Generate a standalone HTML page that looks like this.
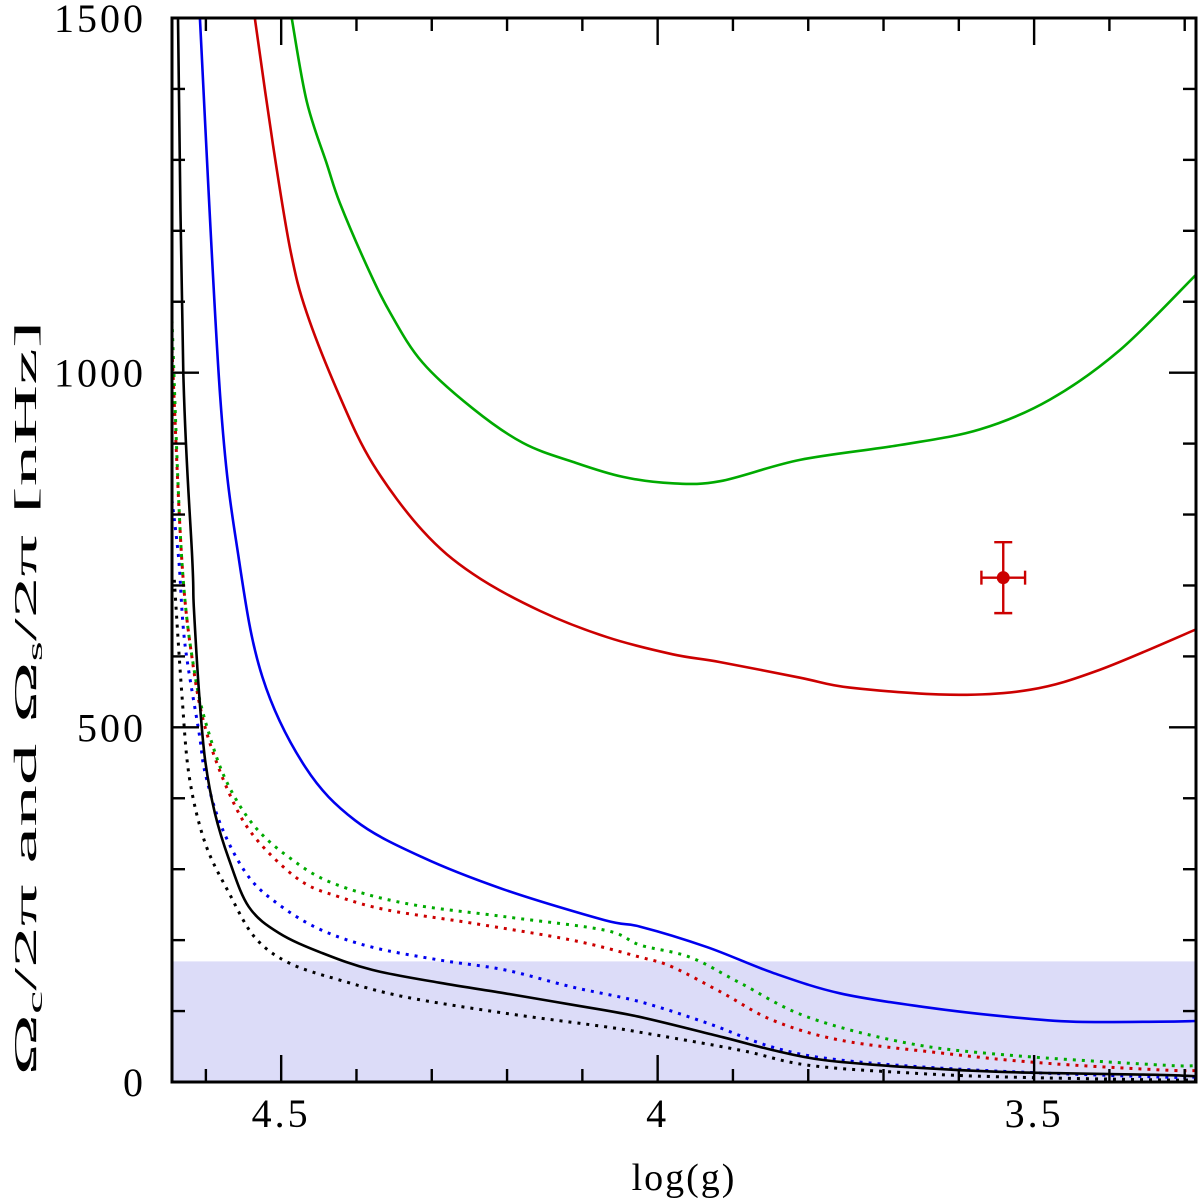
<!DOCTYPE html>
<html><head><meta charset="utf-8"><style>
html,body{margin:0;padding:0;background:#fff;}
svg{display:block;font-family:"Liberation Serif",serif;}
</style></head><body>
<svg id="chart" width="1200" height="1200" viewBox="0 0 1200 1200">
<rect x="172" y="962" width="1024" height="120" fill="#dcdcf8" id="band"/>
<g id="series"></g>
<g id="axes"></g>
<text x="684" y="1190" font-size="38" letter-spacing="2" text-anchor="middle">log(g)</text>
<text transform="translate(36,698) rotate(-90)" font-size="32" text-anchor="middle" textLength="755" lengthAdjust="spacingAndGlyphs">Ω<tspan font-size="20" dy="6">c</tspan><tspan dy="-6">/2π and Ω</tspan><tspan font-size="20" dy="6">s</tspan><tspan dy="-6">/2π [nHz]</tspan></text>
</svg>
<script>
const xTicks=[4.5,4,3.5];
const xTickLabels=["4.5","4","3.5"];
const yTicks=[0,500,1000,1500];
const yTickLabels=["0","500","1000","1500"];
const bandMax=170;
const greenSolidX=[4.486,4.466,4.439,4.422,4.386,4.355,4.312,4.245,4.179,4.112,4.046,3.980,3.917,3.811,3.678,3.572,3.479,3.386,3.285];
const greenSolidY=[1500,1382,1293,1239,1150,1084,1014,949,901,874,853,844,847,877,898,920,962,1032,1138];
const redSolidX=[4.535,4.511,4.488,4.466,4.422,4.378,4.312,4.245,4.156,4.067,3.980,3.917,3.811,3.745,3.612,3.505,3.413,3.285];
const redSolidY=[1500,1322,1174,1084,966,871,777,716,664,627,603,592,570,556,546,553,581,638];
const blueSolidX=[4.608,4.581,4.556,4.525,4.468,4.402,4.313,4.203,4.070,4.023,3.934,3.847,3.758,3.648,3.536,3.448,3.333,3.285];
const blueSolidY=[1500,966,736,571,444,369,317,271,228,219,190,154,125,106,92,85,85,86];
const blackSolidX=[4.637,4.630,4.618,4.616,4.609,4.601,4.588,4.569,4.543,4.503,4.446,4.379,4.290,4.203,4.114,4.025,3.913,3.847,3.780,3.669,3.536,3.333,3.285];
const blackSolidY=[1500,1000,736,670,548,454,379,313,247,210,182,158,140,125,109,92,63,45,31,21,14,10,8];
const blackDotX=[4.642,4.632,4.622,4.601,4.569,4.535,4.490,4.423,4.336,4.203,4.070,4.023,3.891,3.802,3.669,3.536,3.333,3.285];
const blackDotY=[708,548,430,337,266,204,168,144,120,97,78,70,45,24,13,7,3,3];
const blueDotX=[4.645,4.636,4.628,4.609,4.601,4.579,4.543,4.499,4.446,4.379,4.290,4.203,4.114,4.023,3.934,3.847,3.758,3.581,3.333,3.285];
const blueDotY=[820,736,619,492,436,359,289,247,214,190,172,158,134,113,83,49,31,17,7,7];
const redDotX=[4.645,4.632,4.618,4.601,4.569,4.535,4.476,4.423,4.357,4.247,4.114,4.023,3.980,3.913,3.847,3.758,3.625,3.492,3.333,3.285];
const redDotY=[1032,736,595,500,407,345,285,261,242,224,200,176,162,125,87,59,41,27,17,16];
const greenDotX=[4.645,4.632,4.614,4.592,4.569,4.535,4.490,4.433,4.336,4.203,4.070,4.023,3.957,3.891,3.802,3.669,3.536,3.333,3.285];
const greenDotY=[1074,736,571,478,416,360,317,281,252,233,214,193,176,140,92,55,38,24,23];
const obsX=[3.541];
const obsY=[711];
const obsXErr=[0.029];
const obsYErr=[50];

const L=172,R=1196,T=18,B=1082,XMIN=4.645,XMAX=3.285,YMIN=0,YMAX=1500;
const sx=v=>L+(XMIN-v)/(XMIN-XMAX)*(R-L);
const sy=v=>B-(v-YMIN)/(YMAX-YMIN)*(B-T);
const NS="http://www.w3.org/2000/svg";
function mk(tag,attrs,parent){const e=document.createElementNS(NS,tag);for(const k in attrs)e.setAttribute(k,attrs[k]);parent.appendChild(e);return e;}
const band=document.getElementById('band');
band.setAttribute('y',sy(bandMax));band.setAttribute('height',B-sy(bandMax));
const sg=document.getElementById('series');
const clip=mk('clipPath',{id:'pc'},sg);mk('rect',{x:L,y:T,width:R-L,height:B-T},clip);
function smoothPath(P){
  let d='M'+P[0][0].toFixed(1)+','+P[0][1].toFixed(1);
  for(let i=0;i<P.length-1;i++){
    const p0=P[Math.max(0,i-1)],p1=P[i],p2=P[i+1],p3=P[Math.min(P.length-1,i+2)];
    const c1=[p1[0]+(p2[0]-p0[0])/6,p1[1]+(p2[1]-p0[1])/6];
    const c2=[p2[0]-(p3[0]-p1[0])/6,p2[1]-(p3[1]-p1[1])/6];
    d+=' C'+c1[0].toFixed(1)+','+c1[1].toFixed(1)+' '+c2[0].toFixed(1)+','+c2[1].toFixed(1)+' '+p2[0].toFixed(1)+','+p2[1].toFixed(1);
  }
  return d;
}
function line(xs,ys,color,dotted,name){
  const P=xs.map((x,i)=>[sx(x),sy(ys[i])]);
  const p=mk('path',{d:smoothPath(P),fill:'none',stroke:color,'stroke-width':dotted?3:2.6,'stroke-linejoin':'round','clip-path':'url(#pc)'},sg);
  if(dotted){p.setAttribute('stroke-dasharray','3 6');}
  
  
}
line(greenSolidX,greenSolidY,'#00aa00',false,'green-solid-curve');
line(redSolidX,redSolidY,'#cc0000',false,'red-solid-curve');
line(blueSolidX,blueSolidY,'#0000ee',false,'blue-solid-curve');
line(blackDotX,blackDotY,'#000',true,'black-dotted-curve');
line(blueDotX,blueDotY,'#0000ee',true,'blue-dotted-curve');
line(redDotX,redDotY,'#cc0000',true,'red-dotted-curve');
line(greenDotX,greenDotY,'#00aa00',true,'green-dotted-curve');
line(blackSolidX,blackSolidY,'#000',false,'black-solid-curve');
obsX.forEach((x,i)=>{
  const g=mk('g',{stroke:'#cc0000','stroke-width':2.4,fill:'#cc0000'},sg);
  
  
  const cx=sx(x),cy=sy(obsY[i]),x1=sx(x+obsXErr[i]),x2=sx(x-obsXErr[i]),y1=sy(obsY[i]+obsYErr[i]),y2=sy(obsY[i]-obsYErr[i]);
  mk('line',{x1:x1,x2:x2,y1:cy,y2:cy},g);mk('line',{x1:cx,x2:cx,y1:y1,y2:y2},g);
  mk('line',{x1:x1,x2:x1,y1:cy-7,y2:cy+7},g);mk('line',{x1:x2,x2:x2,y1:cy-7,y2:cy+7},g);
  mk('line',{x1:cx-9,x2:cx+9,y1:y1,y2:y1},g);mk('line',{x1:cx-9,x2:cx+9,y1:y2,y2:y2},g);
  mk('circle',{cx:cx,cy:cy,r:6.5,stroke:'none'},g);
});
const ax=document.getElementById('axes');
const frame=mk('rect',{x:L,y:T,width:R-L,height:B-T,fill:'none',stroke:'#000','stroke-width':3},ax);


for(let k=46;k>=33;k--){const v=k/10;const x=sx(v);const major=(k%5===0);const len=major?27:13;
  mk('line',{x1:x,x2:x,y1:B,y2:B-len,stroke:'#000','stroke-width':2.4},ax);
  mk('line',{x1:x,x2:x,y1:T,y2:T+len,stroke:'#000','stroke-width':2.4},ax);}
for(let v=100;v<1500;v+=100){const y=sy(v);const major=(v%500===0);const len=major?27:13;
  mk('line',{x1:L,x2:L+len,y1:y,y2:y,stroke:'#000','stroke-width':2.4},ax);
  mk('line',{x1:R,x2:R-len,y1:y,y2:y,stroke:'#000','stroke-width':2.4},ax);}
xTicks.forEach((v,i)=>{const t=mk('text',{x:sx(v),y:1127,'font-size':40,'letter-spacing':3,'text-anchor':'middle'},ax);t.textContent=xTickLabels[i];
  
  });
yTicks.forEach((v,i)=>{const t=mk('text',{x:146,y:sy(v)+14,'font-size':40,'letter-spacing':3,'text-anchor':'end'},ax);t.textContent=yTickLabels[i];
  
  });
</script>
</body></html>
